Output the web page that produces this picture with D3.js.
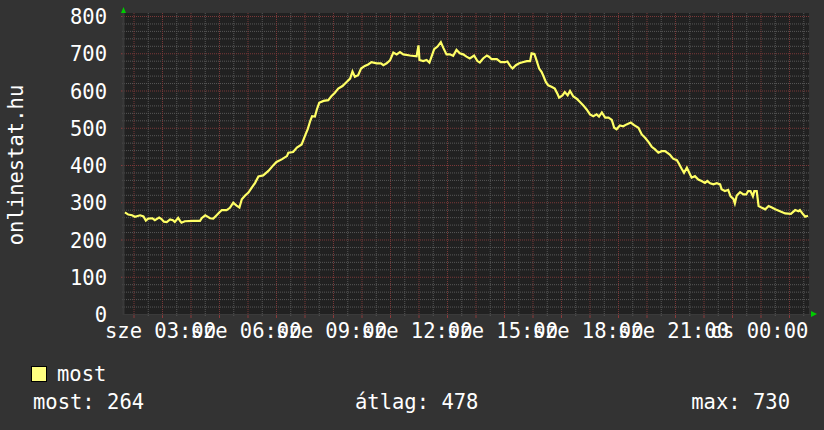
<!DOCTYPE html>
<html><head><meta charset="utf-8">
<script src="https://cdn.jsdelivr.net/npm/d3@7"></script>
<style>
html,body{margin:0;padding:0;background:#333333;}
svg{display:block;}
text{font-family:"DejaVu Sans Mono",monospace;fill:#ffffff;}
</style></head>
<body><svg id="c" width="824" height="430"></svg>
<script>
// minutes after the start of the window (sze 01:40)
const minutes = [2,9,17,23,34,41,46,51,60,65,74,79,84,90,97,103,107,114,118,121,128,146,160,164,171,175,181,188,195,201,206,216,223,230,237,243,248,255,262,269,
276,283,293,304,314,321,332,343,346,356,364,374,381,387,392,396,402,406,411,420,430,437,444,451,460,467,476,481,486,493,499,507,514,521,532,541,546,553,560,
567,574,581,588,602,616,620,622,630,637,643,648,653,660,667,672,679,686,693,700,707,714,721,728,737,744,749,756,764,769,774,785,793,802,807,813,818,825,832,839,848,
855,858,864,869,874,879,883,888,893,900,907,913,916,923,928,934,939,946,953,960,967,974,981,988,995,1000,1006,1013,1020,1027,1032,1037,1044,1051,1058,1067,1074,1083,1090,1097,1104,1111,1118,1125,1132,
1139,1149,1156,1164,1169,1174,1179,1185,1190,1195,1202,1209,1216,1223,1228,1234,1241,1248,1255,1258,1265,1272,1277,1283,1286,1290,1297,1304,1310,1314,1319,1324,1327,1332,1336,1343,1350,1357,1364,1371,1381,1392,1404,1413,1420,1423,1429,1434,1440];
const most = [273,267,265,261,265,262,251,256,257,252,259,255,248,247,254,252,247,258,250,245,249,250,250,258,265,262,257,256,265,273,279,279,285,299,291,286,308,318,326,339,
352,369,372,384,399,408,415,424,433,435,447,455,478,497,518,531,530,549,567,572,574,585,594,605,612,621,632,651,637,641,659,666,670,676,673,673,668,673,681,
702,697,703,697,694,692,721,682,679,682,675,693,711,718,730,715,697,697,693,709,700,697,691,686,694,679,675,686,694,690,684,684,676,676,678,666,659,668,673,676,679,
679,700,698,679,659,650,639,623,614,610,605,590,581,587,596,587,599,584,578,569,560,549,536,531,536,530,541,527,527,521,500,496,506,504,509,514,507,500,482,473,462,449,442,433,437,
437,428,417,413,402,390,379,393,379,366,370,361,357,352,357,351,348,351,348,335,330,333,316,309,297,318,327,321,321,330,330,316,330,330,290,285,281,290,286,281,276,270,269,279,276,279,269,261,264];
const yTickValues = [0,100,200,300,400,500,600,700,800];
const xTickLabels = ["sze 03:00","sze 06:00","sze 09:00","sze 12:00","sze 15:00","sze 18:00","sze 21:00","cs 00:00"];
const yTitle = "onlinestat.hu";
const seriesName = "most";
const stats = ["most: 264","átlag: 478","max: 730"];

const start = new Date(2013, 8, 11, 1, 40);
const end = new Date(start.getTime() + 24*3600*1000);
const L = 124, R = 808, T = 16, B = 314;

const svg = d3.select("#c");
const x = d3.scaleTime().domain([start, end]).range([L, R]);
const y = d3.scaleLinear().domain([0, 800]).range([B, T]);

// plot background
svg.append("rect").attr("x", L).attr("y", 13).attr("width", 809 - L).attr("height", B - 13).attr("fill", "#212121");

const minorT = d3.timeMinute.every(30).range(start, end).filter(d => d.getMinutes() === 30);
const majorT = d3.timeHour.every(1).range(start, end);
const labelT = d3.timeHour.every(3).range(start, end);
const minorY = d3.range(20, 801, 20).filter(v => v % 100 !== 0);
const majorY = yTickValues.filter(v => v > 0);

// grid via axes
function grid(g, color) { g.select(".domain").remove(); g.selectAll("line").attr("stroke", color).attr("stroke-dasharray", "1,1"); g.selectAll("text").remove(); }
svg.append("g").attr("transform", `translate(0,${B})`).call(d3.axisBottom(x).tickValues(minorT).tickSize(-(B - 13)).tickSizeOuter(0)).call(grid, "#575757");
svg.append("g").attr("transform", `translate(${L},0)`).call(d3.axisLeft(y).tickValues(minorY).tickSize(-(809 - L)).tickSizeOuter(0)).call(grid, "#575757");
svg.append("g").attr("transform", `translate(0,${B})`).call(d3.axisBottom(x).tickValues(majorT).tickSize(-(B - 13)).tickSizeOuter(0)).call(grid, "#7a3838");
svg.append("g").attr("transform", `translate(${L},0)`).call(d3.axisLeft(y).tickValues(majorY).tickSize(-(809 - L)).tickSizeOuter(0)).call(grid, "#7a3838");

// small outside ticks
function ticks(g, color) { g.select(".domain").remove(); g.selectAll("line").attr("stroke", color); g.selectAll("text").remove(); }
svg.append("g").attr("transform", `translate(0,${B})`).call(d3.axisBottom(x).tickValues(minorT).tickSize(2).tickSizeOuter(0)).call(ticks, "#555");
svg.append("g").attr("transform", `translate(0,${B})`).call(d3.axisBottom(x).tickValues(majorT).tickSize(4).tickSizeOuter(0)).call(ticks, "#8a3a3a");
svg.append("g").attr("transform", `translate(${L},0)`).call(d3.axisLeft(y).tickValues(minorY).tickSize(2).tickSizeOuter(0)).call(ticks, "#555");
svg.append("g").attr("transform", `translate(${L},0)`).call(d3.axisLeft(y).tickValues(majorY).tickSize(3).tickSizeOuter(0)).call(ticks, "#8a3a3a");

// axis lines
svg.append("line").attr("x1", L).attr("x2", 811).attr("y1", B + 0.5).attr("y2", B + 0.5).attr("stroke", "#3a3a3a").attr("stroke-width", 1);
svg.append("line").attr("x1", L - 0.5).attr("x2", L - 0.5).attr("y1", 10).attr("y2", B + 1).attr("stroke", "#3a3a3a").attr("stroke-width", 2);
// arrows
svg.append("path").attr("d", `M${L - 3},${13} L${L + 2},${13} L${L - 0.5},${7} Z`).attr("fill", "#00cc00");
svg.append("path").attr("d", `M${811},${B - 3} L${811},${B + 3} L${817},${B} Z`).attr("fill", "#00cc00");

// y labels
svg.append("g").attr("transform", `translate(${L - 17},0)`)
  .call(d3.axisLeft(y).tickValues(yTickValues).tickSize(0).tickPadding(0))
  .call(g => { g.select(".domain").remove(); g.selectAll("text").attr("fill", "#fff").attr("font-size", "20.5px").attr("font-family", "DejaVu Sans Mono").attr("text-anchor", "end").attr("dy", null).attr("y", 7.5); });

// x labels
svg.append("g").attr("transform", `translate(-2,${B})`)
  .call(d3.axisBottom(x).tickValues(labelT).tickSize(0).tickPadding(0).tickFormat((d, i) => xTickLabels[i]))
  .call(g => { g.select(".domain").remove(); g.selectAll("text").attr("fill", "#fff").attr("font-size", "20.5px").attr("font-family", "DejaVu Sans Mono").attr("dy", null).attr("y", 24); });

// data line
const data = minutes.map((m, i) => ({ t: new Date(start.getTime() + m * 60000), v: most[i] }));
svg.append("path").datum(data)
  .attr("d", d3.line().x(d => x(d.t)).y(d => y(d.v)))
  .attr("fill", "none").attr("stroke", "#ffff66").attr("stroke-width", 2.2).attr("stroke-linejoin", "miter");

// y title
svg.append("text").attr("transform", "translate(23,165) rotate(-90)").attr("text-anchor", "middle").attr("font-size", "20.5px").text(yTitle);

// legend
svg.append("rect").attr("x", 31.5).attr("y", 366.5).attr("width", 15).attr("height", 15).attr("fill", "#ffff80").attr("stroke", "#000").attr("stroke-width", 1);
svg.append("text").attr("x", 57).attr("y", 381).attr("font-size", "20.5px").text(seriesName);
svg.append("text").attr("x", 33).attr("y", 409).attr("font-size", "20.5px").text(stats[0]);
svg.append("text").attr("x", 355).attr("y", 409).attr("font-size", "20.5px").text(stats[1]);
svg.append("text").attr("x", 790).attr("y", 409).attr("text-anchor", "end").attr("font-size", "20.5px").text(stats[2]);
</script></body></html>
